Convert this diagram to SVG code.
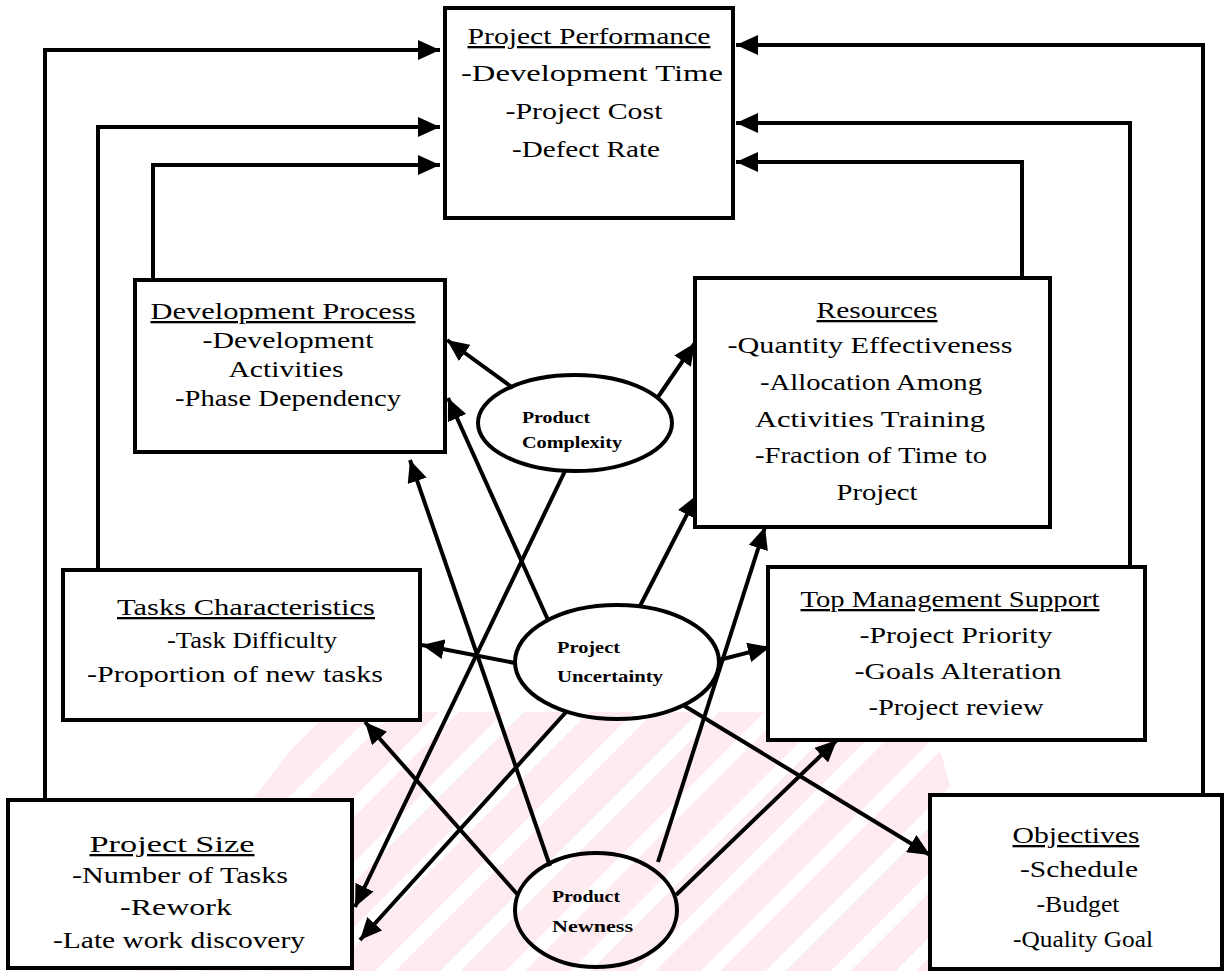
<svg xmlns="http://www.w3.org/2000/svg" width="1226" height="971" viewBox="0 0 1226 971">
<defs>
<marker id="ah" markerUnits="userSpaceOnUse" markerWidth="24" markerHeight="20" refX="22" refY="10" orient="auto">
<path d="M0,0 L22,10 L0,20 z" fill="#000"/>
</marker>
<pattern id="wm" patternUnits="userSpaceOnUse" width="46" height="46" patternTransform="rotate(45)">
<rect x="0" y="0" width="32" height="46" fill="#fdebef"/>
</pattern>
<clipPath id="wmclip">
<polygon points="320,712 930,712 1000,971 120,971"/>
</clipPath>
<style>
.box{fill:#fff;stroke:#000;stroke-width:4}
.ell{fill:none;stroke:#000;stroke-width:4}
.t{font-family:"Liberation Serif","Times New Roman",serif;font-size:23px;fill:#000;text-anchor:middle}
.u{text-decoration:underline}
.e{font-family:"Liberation Serif","Times New Roman",serif;font-size:17px;font-weight:bold;fill:#000}
.c{fill:none;stroke:#000;stroke-width:4;marker-end:url(#ah)}
</style>
</defs>
<rect width="1226" height="971" fill="#fff"/>
<rect x="110" y="700" width="900" height="271" fill="url(#wm)" clip-path="url(#wmclip)"/>
<g id="connectors">
<path class="c" d="M45,800 L45,50 L440,50"/>
<path class="c" d="M98,570 L98,127 L440,127"/>
<path class="c" d="M153,280 L153,165 L440,165"/>
<path class="c" d="M1203,795 L1203,45 L736,45"/>
<path class="c" d="M1130,567 L1130,123 L736,123"/>
<path class="c" d="M1022,278 L1022,162 L736,162"/>
<path class="c" d="M513,388 L447,340"/>
<path class="c" d="M658,397 L695,343"/>
<path class="c" d="M548,620 L448,398"/>
<path class="c" d="M640,606 L697,495"/>
<path class="c" d="M515,663 L422,645"/>
<path class="c" d="M719,660 L770,647"/>
<path class="c" d="M565,471 L355,907"/>
<path class="c" d="M567,711 L360,940"/>
<path class="c" d="M683,705 L930,855"/>
<path class="c" d="M550,866 L410,460"/>
<path class="c" d="M658,862 L765,527"/>
<path class="c" d="M518,895 L365,722"/>
<path class="c" d="M676,895 L837,740"/>
</g>
<g id="project-performance">
<rect class="box" x="445" y="8" width="288" height="210"/>
<text class="t u" x="589" y="44" textLength="243" lengthAdjust="spacingAndGlyphs">Project Performance</text>
<text class="t" x="592" y="81" textLength="262" lengthAdjust="spacingAndGlyphs">-Development Time</text>
<text class="t" x="584" y="119" textLength="157" lengthAdjust="spacingAndGlyphs">-Project Cost</text>
<text class="t" x="586" y="157" textLength="148" lengthAdjust="spacingAndGlyphs">-Defect Rate</text>
</g>
<g id="development-process">
<rect class="box" x="135" y="280" width="310" height="172"/>
<text class="t u" x="283" y="319" textLength="265" lengthAdjust="spacingAndGlyphs">Development Process</text>
<text class="t" x="288" y="348" textLength="171" lengthAdjust="spacingAndGlyphs">-Development</text>
<text class="t" x="286" y="377" textLength="115" lengthAdjust="spacingAndGlyphs">Activities</text>
<text class="t" x="288" y="406" textLength="226" lengthAdjust="spacingAndGlyphs">-Phase Dependency</text>
</g>
<g id="resources">
<rect class="box" x="695" y="278" width="355" height="249"/>
<text class="t u" x="877" y="318" textLength="121" lengthAdjust="spacingAndGlyphs">Resources</text>
<text class="t" x="870" y="353" textLength="285" lengthAdjust="spacingAndGlyphs">-Quantity   Effectiveness</text>
<text class="t" x="871" y="390" textLength="222" lengthAdjust="spacingAndGlyphs">-Allocation Among</text>
<text class="t" x="870" y="427" textLength="230" lengthAdjust="spacingAndGlyphs">Activities   Training</text>
<text class="t" x="871" y="463" textLength="232" lengthAdjust="spacingAndGlyphs">-Fraction of Time to</text>
<text class="t" x="877" y="500" textLength="81" lengthAdjust="spacingAndGlyphs">Project</text>
</g>
<g id="tasks-characteristics">
<rect class="box" x="63" y="570" width="357" height="150"/>
<text class="t u" x="246" y="615" textLength="258" lengthAdjust="spacingAndGlyphs">Tasks Characteristics</text>
<text class="t" x="252" y="648" textLength="170" lengthAdjust="spacingAndGlyphs">-Task Difficulty</text>
<text class="t" x="235" y="682" textLength="296" lengthAdjust="spacingAndGlyphs">-Proportion of new tasks</text>
</g>
<g id="top-management-support">
<rect class="box" x="768" y="567" width="377" height="173"/>
<text class="t u" x="950" y="607" textLength="299" lengthAdjust="spacingAndGlyphs">Top Management Support</text>
<text class="t" x="956" y="643" textLength="193" lengthAdjust="spacingAndGlyphs">-Project Priority</text>
<text class="t" x="958" y="679" textLength="207" lengthAdjust="spacingAndGlyphs">-Goals Alteration</text>
<text class="t" x="956" y="715" textLength="175" lengthAdjust="spacingAndGlyphs">-Project review</text>
</g>
<g id="project-size">
<rect class="box" x="8" y="800" width="344" height="168"/>
<text class="t u" x="172" y="852" textLength="165" lengthAdjust="spacingAndGlyphs">Project Size</text>
<text class="t" x="180" y="883" textLength="216" lengthAdjust="spacingAndGlyphs">-Number of Tasks</text>
<text class="t" x="176" y="915" textLength="112" lengthAdjust="spacingAndGlyphs">-Rework</text>
<text class="t" x="179" y="948" textLength="252" lengthAdjust="spacingAndGlyphs">-Late work discovery</text>
</g>
<g id="objectives">
<rect class="box" x="930" y="795" width="292" height="174"/>
<text class="t u" x="1076" y="843" textLength="127" lengthAdjust="spacingAndGlyphs">Objectives</text>
<text class="t" x="1079" y="877" textLength="118" lengthAdjust="spacingAndGlyphs">-Schedule</text>
<text class="t" x="1078" y="912" textLength="83" lengthAdjust="spacingAndGlyphs">-Budget</text>
<text class="t" x="1083" y="947" textLength="140" lengthAdjust="spacingAndGlyphs">-Quality Goal</text>
</g>
<g id="product-complexity">
<ellipse class="ell" cx="575" cy="423" rx="97" ry="48"/>
<text class="e" x="522" y="423" textLength="68" lengthAdjust="spacingAndGlyphs">Product</text>
<text class="e" x="522" y="448" textLength="100" lengthAdjust="spacingAndGlyphs">Complexity</text>
</g>
<g id="project-uncertainty">
<ellipse class="ell" cx="617" cy="662" rx="102" ry="57"/>
<text class="e" x="557" y="653" textLength="63" lengthAdjust="spacingAndGlyphs">Project</text>
<text class="e" x="557" y="682" textLength="106" lengthAdjust="spacingAndGlyphs">Uncertainty</text>
</g>
<g id="product-newness">
<ellipse class="ell" cx="596" cy="910" rx="81" ry="57"/>
<text class="e" x="552" y="902" textLength="68" lengthAdjust="spacingAndGlyphs">Product</text>
<text class="e" x="552" y="932" textLength="81" lengthAdjust="spacingAndGlyphs">Newness</text>
</g>
</svg>
